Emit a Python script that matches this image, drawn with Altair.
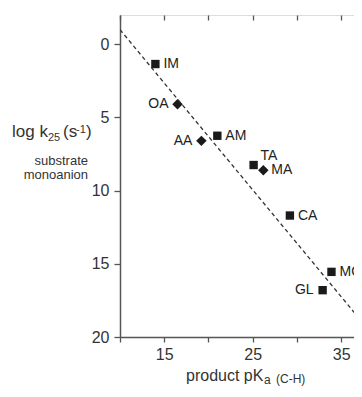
import altair as alt
import pandas as pd

# --- data ---
codes = ["IM", "OA", "AA", "AM", "TA", "MA", "CA", "MO", "GL"]
pka = [14.0, 16.5, 19.2, 21.0, 25.1, 26.2, 29.2, 33.9, 32.9]
logk = [1.35, 4.1, 6.6, 6.25, 8.25, 8.6, 11.7, 15.55, 16.8]
shapes = ["square", "diamond", "diamond", "square", "square", "diamond", "square", "square", "square"]
label_side = ["right", "left", "left", "right", "top", "right", "right", "right", "left"]

line_x = [10.0, 37.4]
line_y = [-1.0, 19.0]

x_ticks = [10, 15, 20, 25, 30, 35]
y_ticks = [0, 5, 10, 15, 20]
x_domain = [10, 37.35]
y_domain = [-2, 20]

W, H = 242, 322
AX = "#555555"
TXT = "#333333"
FONT = "Liberation Sans"

pts = pd.DataFrame({"code": codes, "pka": pka, "logk": logk, "shape": shapes, "side": label_side})
line_df = pd.DataFrame({"pka": line_x, "logk": line_y})

xs = alt.Scale(domain=x_domain, nice=False, zero=False)
ys = alt.Scale(domain=y_domain, nice=False, zero=False, reverse=True)

x_main = alt.X("pka:Q", scale=xs, axis=alt.Axis(
    orient="bottom", values=x_ticks, title=None, grid=False,
    labelExpr="datum.value % 10 == 5 ? datum.label : ''",
    labelFontSize=16, labelColor=TXT, labelFont=FONT, labelPadding=4,
    tickSize=5, tickColor=AX, tickWidth=1.3, domainColor=AX, domainWidth=1.5))
y_main = alt.Y("logk:Q", scale=ys, axis=alt.Axis(
    orient="left", values=y_ticks, title=None, grid=False,
    labelFontSize=16, labelColor=TXT, labelFont=FONT, labelPadding=5,
    tickSize=6, tickColor=AX, tickWidth=1.3, domainColor=AX, domainWidth=1.5))

points = alt.Chart(pts).mark_point(filled=True, opacity=1, color="#1a1a1a").encode(
    x=x_main, y=y_main,
    shape=alt.Shape("shape:N", scale=alt.Scale(domain=["square", "diamond"], range=["square", "diamond"]), legend=None),
    size=alt.Size("shape:N", scale=alt.Scale(domain=["square", "diamond"], range=[70, 110]), legend=None),
)

xn = alt.X("pka:Q", scale=xs, axis=None)
yn = alt.Y("logk:Q", scale=ys, axis=None)

lab_base = alt.Chart(pts)
lab_right = lab_base.transform_filter("datum.side == 'right'").mark_text(
    align="left", baseline="middle", dx=8, fontSize=14, font=FONT, color="#222", clip=True
).encode(x=xn, y=yn, text="code:N")
lab_left = lab_base.transform_filter("datum.side == 'left'").mark_text(
    align="right", baseline="middle", dx=-9, fontSize=14, font=FONT, color="#222", clip=True
).encode(x=xn, y=yn, text="code:N")
lab_top = lab_base.transform_filter("datum.side == 'top'").mark_text(
    align="left", baseline="middle", dx=7, dy=-9, fontSize=14, font=FONT, color="#222", clip=True
).encode(x=xn, y=yn, text="code:N")

# dashed fit line, carrying the mirrored (top/right) axes with inward ticks
fit = alt.Chart(line_df).mark_line(strokeDash=[4, 3], strokeWidth=1.3, color="#333", clip=True).encode(
    x=alt.X("pka:Q", scale=xs, axis=alt.Axis(
        orient="top", values=x_ticks, labels=False, title=None, grid=False, domain=False,
        offset=-5, tickSize=5, tickColor=AX, tickWidth=1.3)),
    y=alt.Y("logk:Q", scale=ys, axis=alt.Axis(
        orient="right", values=y_ticks, labels=False, title=None, grid=False, domain=False,
        offset=-5, tickSize=5, tickColor=AX, tickWidth=1.3)),
)

def txt(s, x, y, size, align="left"):
    return alt.Chart(pd.DataFrame({"t": [s]})).mark_text(
        align=align, baseline="alphabetic", fontSize=size, font=FONT, color=TXT
    ).encode(x=alt.value(x), y=alt.value(y), text="t:N")

titles = [
    txt("log k", -108, 122, 17),
    txt("25", -72, 126, 11),
    txt("(s", -57, 122, 17),
    txt("-1", -44, 118, 11),
    txt(")", -34, 122, 17),
    txt("substrate", -32, 150, 13, "right"),
    txt("monoanion", -32, 164, 13, "right"),
    txt("product pK", 66, 366, 16),
    txt("a", 144, 369, 12),
    txt("(C-H)", 156, 368, 12),
]

chart = alt.layer(points, fit, lab_right, lab_left, lab_top, *titles).resolve_axis(
    x="independent", y="independent"
).properties(
    width=W, height=H,
    autosize=alt.AutoSizeParams(type="none"),
    padding={"left": 112, "top": 7, "right": -8, "bottom": 52},
).configure_view(stroke=AX, strokeWidth=1.5).configure(background="white")

chart.save("out.html", embed_options={"renderer": "svg", "actions": False})
